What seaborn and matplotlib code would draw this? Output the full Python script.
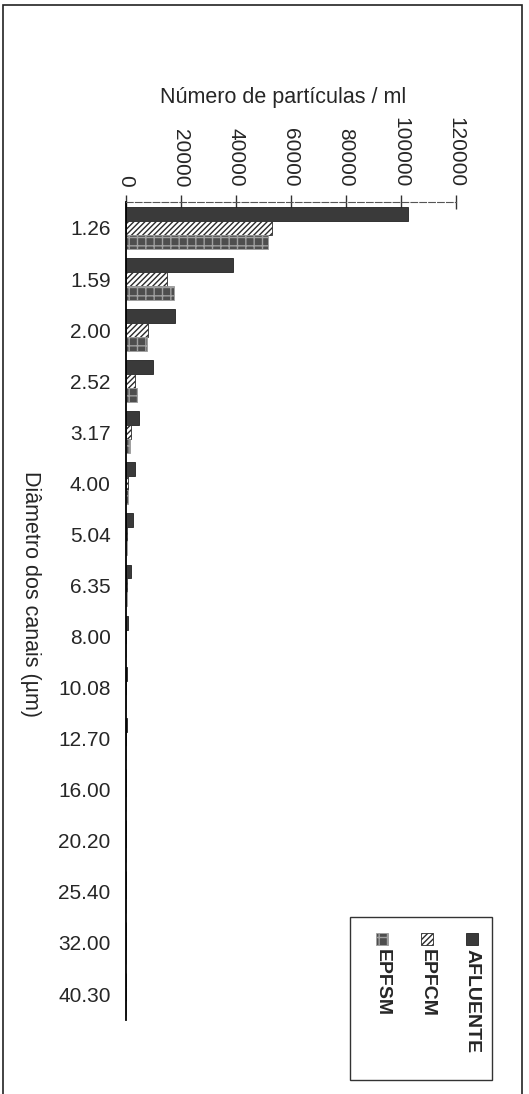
import pandas as pd
import matplotlib.pyplot as plt
import seaborn as sns
from matplotlib.patches import Rectangle

# Données (particules / ml)
diametros = ['1.26', '1.59', '2.00', '2.52', '3.17', '4.00', '5.04', '6.35',
             '8.00', '10.08', '12.70', '16.00', '20.20', '25.40', '32.00', '40.30']
afluente = [102500, 39000, 17800, 9700, 4600, 3200, 2400, 1800,
            700, 400, 250, 150, 100, 60, 40, 20]
epfcm = [53000, 15000, 8000, 3300, 1800, 800, 500, 300,
         200, 120, 80, 50, 30, 20, 10, 5]
epfsm = [51600, 17500, 7600, 3900, 1500, 700, 400, 250,
         150, 100, 60, 40, 25, 15, 10, 5]
series = ['AFLUENTE', 'EPFCM', 'EPFSM']

df = pd.concat([
    pd.DataFrame({'diametro': diametros, 'valor': v, 'serie': s})
    for s, v in zip(series, [afluente, epfcm, epfsm])
])

sns.set_style('white')
plt.rcParams['font.family'] = ['Liberation Sans', 'DejaVu Sans']
plt.rcParams['hatch.linewidth'] = 1.0

fig = plt.figure(figsize=(5.29, 10.94), dpi=100)
ax = fig.add_axes([0.238, 0.068, 0.624, 0.747])

faces = ['#3a3a3a', 'white', '#4e4e4e']
sns.barplot(data=df, x='valor', y='diametro', hue='serie', orient='h',
            order=diametros, hue_order=series,
            palette=faces, width=0.82, legend=False, ax=ax)

# styles des séries (motifs comme dans l'original)
styles = [dict(hatch=None, edgecolor='#222222'),
          dict(hatch='//////', edgecolor='#2a2a2a'),
          dict(hatch='++', edgecolor='#a0a0a0')]
for cont, st in zip(ax.containers, styles):
    for bar in cont:
        bar.set_hatch(st['hatch'])
        bar.set_edgecolor(st['edgecolor'])
        bar.set_linewidth(0.6)

ax.set_xlim(0, 120000)
ax.set_ylim(len(diametros) - 0.5, -0.5)
ax.set_xticks(range(0, 120001, 20000))
ax.xaxis.tick_top()
ax.tick_params(axis='x', rotation=-90, labelsize=15, direction='inout',
               length=10, width=1, color='#333333', pad=6)
ax.tick_params(axis='y', labelsize=15, length=0, pad=11)
ax.set_yticks([i - 0.5 for i in range(len(diametros) + 1)], minor=True)
ax.tick_params(axis='y', which='minor', direction='inout', length=8,
               width=0.8, color='#555555')

ax.set_xlabel('')
ax.set_ylabel('')
for side in ['right', 'bottom']:
    ax.spines[side].set_visible(False)
ax.spines['top'].set_linestyle((0, (6, 2)))
ax.spines['top'].set_color('#555555')
ax.spines['left'].set_color('black')
ax.spines['left'].set_linewidth(1.3)

fig.text(0.535, 0.911, 'Número de partículas / ml', ha='center', va='center', fontsize=15.5)
fig.text(0.058, 0.457, 'Diâmetro dos canais (µm)', ha='center', va='center',
         fontsize=15.5, rotation=-90)

# légende tournée (comme dans l'original)
fig.patches.append(Rectangle((350 / 529, 1 - 1080 / 1094), 142 / 529, 163 / 1094,
                             transform=fig.transFigure, fill=False,
                             edgecolor='#333333', lw=1))
for i, (nom, fc, st) in enumerate(zip(series, faces, styles)):
    xc = (472 - 45 * i) / 529
    fig.patches.append(Rectangle((xc - 6 / 529, 1 - 945 / 1094), 12 / 529, 12 / 1094,
                                 transform=fig.transFigure, facecolor=fc,
                                 edgecolor=st['edgecolor'], hatch=st['hatch'], lw=0.6))
    fig.text(xc, 1 - 949 / 1094, nom, rotation=-90, ha='center', va='top',
             fontsize=14, fontweight='semibold')

# cadre de la figure
fig.patches.append(Rectangle((3 / 529, -0.01), 519 / 529, 1.01 - 5 / 1094,
                             transform=fig.transFigure, fill=False,
                             edgecolor='#222222', lw=1.2))

plt.savefig('out.png', dpi=100)
